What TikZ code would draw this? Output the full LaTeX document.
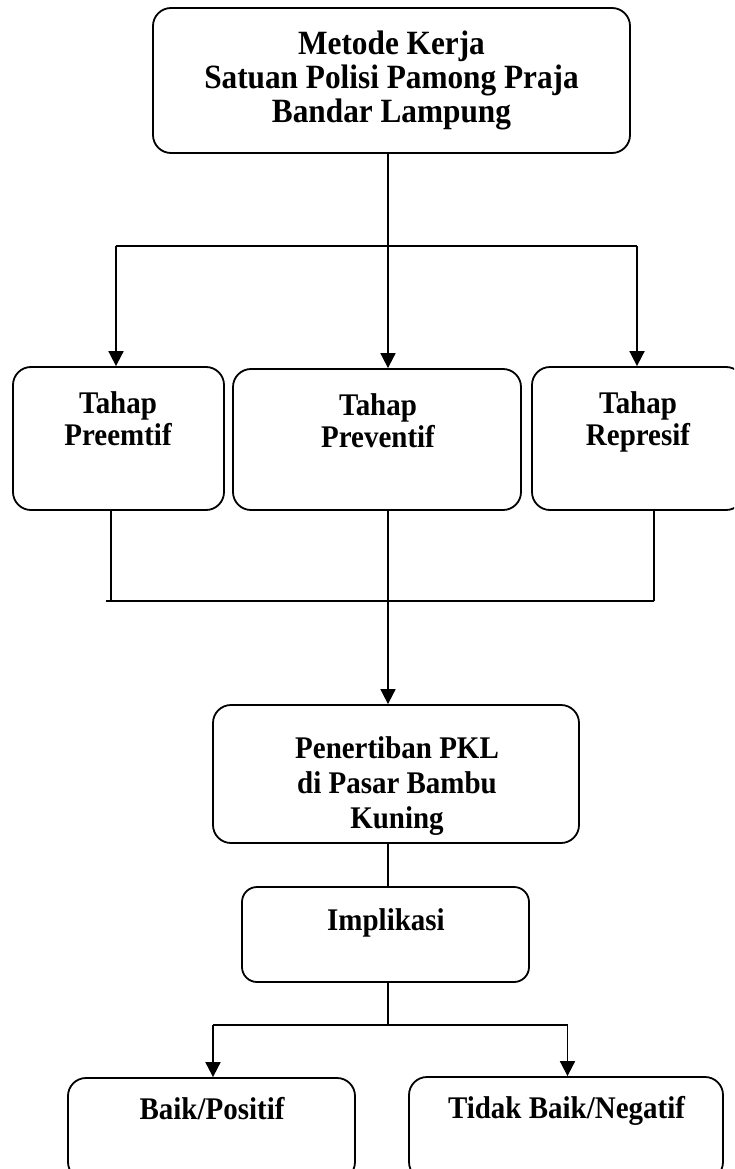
\documentclass[tikz,border=0pt]{standalone}
\usepackage{fontspec}
\setmainfont{Liberation Serif}
\newfontfamily\cnd[FakeStretch=0.92]{Liberation Serif}
\usetikzlibrary{arrows.meta}
\begin{document}
\begin{tikzpicture}[x=1pt,y=-1pt,
  box/.style={draw, line width=1.8pt, rounded corners=18pt, inner sep=0pt},
  txt/.style={align=center, inner sep=0pt, font=\cnd\bfseries\fontsize{31.5}{32}\selectfont},
  conn/.style={line width=1.8pt},
  arr/.style={line width=1.8pt, -{Triangle[width=15pt,length=15pt]}}]
\useasboundingbox (0,0) rectangle (734,1169);
\clip (0,0) rectangle (734,1169);
\fill[white] (0,0) rectangle (734,1169);

% boxes
\node[box, minimum width=477pt, minimum height=145pt] (top) at (391.5,80.5) {};
\node[box, minimum width=211pt, minimum height=143pt] (pre1) at (118.5,438.5) {};
\node[box, minimum width=288pt, minimum height=141pt] (pre2) at (377,439.5) {};
\node[box, minimum width=212pt, minimum height=143pt] (pre3) at (638,438.5) {};
\node[box, minimum width=366pt, minimum height=138pt] (pen) at (396,774) {};
\node[box, rounded corners=15pt, minimum width=287pt, minimum height=95pt] (imp) at (385.5,934.5) {};
\node[box, minimum width=287pt, minimum height=102pt] (baik) at (211.5,1129) {};
\node[box, minimum width=314pt, minimum height=103pt] (tidak) at (566,1128.5) {};

% texts
\node[txt, font=\cnd\bfseries\fontsize{34}{34}\selectfont, anchor=north] (ttop) at (391.5,31)
  {Metode Kerja\\Satuan Polisi Pamong Praja\\Bandar Lampung};
\node[txt, anchor=north] (t1) at (118,391.7) {Tahap\\Preemtif};
\node[txt, anchor=north] (t2) at (378,393.2) {Tahap\\Preventif};
\node[txt, anchor=north] (t3) at (638,391.7) {Tahap\\Represif};
\node[txt, font=\cnd\bfseries\fontsize{31.5}{35}\selectfont, anchor=north] (tpen) at (397,736.7)
  {Penertiban PKL\\di Pasar Bambu\\Kuning};
\node[txt, anchor=base] (timp) at (386,930) {Implikasi};
\node[txt, anchor=base] (tbaik) at (212,1119) {Baik/Positif};
\node[txt, anchor=base] (ttidak) at (566.5,1118) {Tidak Baik/Negatif};

% coordinates
\coordinate (mid) at (388,0);
\coordinate (b1) at (116,246);
\coordinate (b3) at (637,246);
\coordinate (c1) at (111,601);
\coordinate (c0) at (106,601);
\coordinate (c3) at (654,601);
\coordinate (d) at (388,1025);
\coordinate (d1) at (213,1025);
\coordinate (d3) at (567.5,1025);

% top fan-out
\draw[arr] (top.south -| mid) -- (pre2.north -| mid);
\draw[conn] (b1) -- (b3);
\draw[arr] (b1) -- (b1 |- pre1.north);
\draw[arr] (b3) -- (b3 |- pre3.north);

% merge
\draw[conn] (pre1.south -| c1) -- (c1);
\draw[conn] (pre3.south -| c3) -- (c3);
\draw[conn] (c0) -- (c3);
\draw[arr] (pre2.south -| mid) -- (pen.north -| mid);

% lower
\draw[conn] (pen.south -| mid) -- (imp.north -| mid);
\draw[conn] (imp.south -| mid) -- (d);
\draw[conn] (d1) -- (d3);
\draw[arr] (d1) -- (d1 |- baik.north);
\draw[arr] (d3) -- (d3 |- tidak.north);
\end{tikzpicture}
\end{document}
